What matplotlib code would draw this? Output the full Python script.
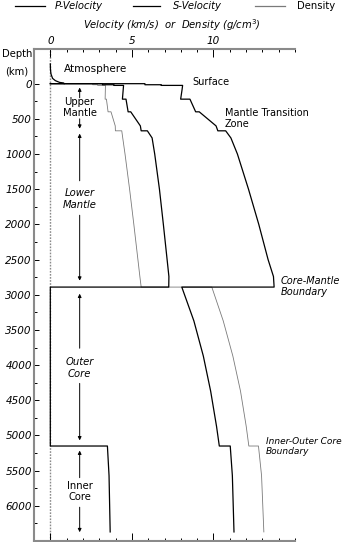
import matplotlib
matplotlib.use("Agg")
import matplotlib.pyplot as plt
from matplotlib.lines import Line2D

# PREM-like profiles (depth in km)
depth_p = [0, 0, 15, 15, 24.4, 24.4, 80, 220, 220, 400, 400, 600, 670, 670, 771,
           1000, 1500, 2000, 2500, 2741, 2891, 2891, 3371, 3871, 4371, 4871, 5150,
           5150, 5571, 6371]
vp = [0, 5.8, 5.8, 6.8, 6.8, 8.11, 8.08, 7.99, 8.56, 8.91, 9.13, 10.16, 10.27, 10.75, 11.07,
      11.47, 12.15, 12.78, 13.35, 13.68, 13.72, 8.06, 8.80, 9.38, 9.83, 10.19, 10.36,
      11.03, 11.16, 11.26]

depth_s = [0, 0, 15, 15, 24.4, 24.4, 80, 220, 220, 400, 400, 600, 670, 670, 771,
           1000, 1500, 2000, 2500, 2741, 2891, 2891, 5150, 5150, 5571, 6371]
vs = [0, 3.2, 3.2, 3.9, 3.9, 4.49, 4.47, 4.42, 4.64, 4.77, 4.93, 5.52, 5.57, 5.95, 6.24,
      6.40, 6.69, 6.93, 7.16, 7.27, 7.26, 0, 0, 3.50, 3.60, 3.67]

depth_rho = [0, 0, 15, 15, 24.4, 24.4, 220, 220, 400, 400, 600, 670, 670, 771,
             1000, 1500, 2000, 2500, 2741, 2891, 2891, 3371, 3871, 4371, 4871, 5150,
             5150, 5571, 6371]
rho = [0, 2.6, 2.6, 2.9, 2.9, 3.38, 3.36, 3.44, 3.54, 3.72, 3.98, 3.99, 4.38, 4.44,
       4.58, 4.86, 5.12, 5.37, 5.49, 5.57, 9.90, 10.60, 11.19, 11.66, 12.01, 12.17,
       12.76, 12.95, 13.09]

# atmosphere curve above the surface
depth_atm = [-280, -200, -138, -75, -43, -18, -10, 0]
atm = [0, 0.01, 0.04, 0.14, 0.31, 0.57, 0.82, 0.85]

# layer labels with arrows: (text, style, text depth, up arrow from/to, down arrow from/to)
layers = [
    ("Upper\nMantle", "normal", 340, (200, 55), (500, 640)),
    ("Lower\nMantle", "italic", 1640, (1380, 710), (1870, 2800)),
    ("Outer\nCore", "italic", 4040, (3760, 2985), (4260, 5070)),
    ("Inner\nCore", "normal", 5800, (5600, 5215), (6020, 6375)),
]
label_x = 1.8

# boundary notes on the right side
notes = [
    ("Surface", "normal", 8.7, -30, 7.0),
    ("Mantle Transition\nZone", "normal", 10.7, 500, 7.0),
    ("Core-Mantle\nBoundary", "italic", 14.1, 2885, 7.0),
    ("Inner-Outer Core\nBoundary", "italic", 13.2, 5160, 6.5),
]

W, H = 348, 542
fig = plt.figure(figsize=(W / 100, H / 100), dpi=100)
ax = fig.add_axes([34 / W, 1 / H, 261 / W, 492.5 / H])

frame = "#8a8a8a"
ax.axvline(0, color=frame, lw=1.0, ls=(0, (1.2, 1.0)), zorder=1)
ax.plot(vp, depth_p, color="black", lw=0.9, zorder=3)
ax.plot(vs, depth_s, color="black", lw=0.9, zorder=3)
ax.plot(rho, depth_rho, color="#7a7a7a", lw=0.6, zorder=2)
ax.plot(atm, depth_atm, color="black", lw=0.9, zorder=3)

ax.set_xlim(-1, 15)
ax.set_ylim(6500, -500)

ax.set_xticks([0, 5, 10])
ax.set_xticks(range(-1, 16), minor=True)
ax.set_yticks(range(0, 6001, 500))
ax.set_yticks(range(0, 6401, 250), minor=True)
ax.xaxis.set_ticks_position("both")
ax.tick_params(axis="x", which="both", direction="in", top=True, bottom=True,
               labeltop=True, labelbottom=False, width=0.7, pad=1.5, labelsize=7.5)
ax.tick_params(axis="x", which="major", length=5.5)
ax.tick_params(axis="x", which="minor", length=2.3)
ax.tick_params(axis="y", which="both", direction="in", width=0.7, pad=1.5, labelsize=7.5)
ax.tick_params(axis="y", which="major", length=3.8)
ax.tick_params(axis="y", which="minor", length=2.0)
for lab in ax.get_xticklabels() + ax.get_yticklabels():
    lab.set_style("italic")

for side in ["left", "top", "bottom"]:
    ax.spines[side].set_color(frame)
    ax.spines[side].set_linewidth(1.5)
ax.spines["right"].set_visible(False)

ax.text(2.75, -215, "Atmosphere", fontsize=7.5, ha="center", va="center")

for text, style, d_text, up, down in layers:
    ax.text(label_x, d_text, text, fontsize=7.2, style=style, ha="center",
            va="center", linespacing=1.15)
    for a, b in (up, down):
        ax.annotate("", xy=(label_x, b), xytext=(label_x, a),
                    arrowprops=dict(arrowstyle="-|>", color="black", lw=0.7,
                                    mutation_scale=5, shrinkA=0, shrinkB=0))

for text, style, x, d, size in notes:
    ax.text(x, d, text, fontsize=size, style=style, ha="left", va="center",
            linespacing=1.15, clip_on=False)

# legend row and headings
fig.text(172 / W, 1 - 25 / H, "Velocity (km/s)  or  Density (g/cm$^3$)",
         fontsize=7.2, style="italic", ha="center", va="center")
fig.text(17 / W, 1 - 54 / H, "Depth", fontsize=7.2, ha="center", va="center")
fig.text(17 / W, 1 - 71 / H, "(km)", fontsize=7.2, ha="center", va="center")

legend = [("P-Velocity", "black", 15, 45, 55, "italic"),
          ("S-Velocity", "black", 133, 160, 173, "italic"),
          ("Density", "#7a7a7a", 255, 285, 297, "normal")]
for name, col, x0, x1, xt, style in legend:
    fig.add_artist(Line2D([x0 / W, x1 / W], [1 - 6 / H, 1 - 6 / H], color=col,
                          lw=0.9, transform=fig.transFigure))
    fig.text(xt / W, 1 - 6 / H, name, fontsize=7.2, style=style, ha="left", va="center")

fig.savefig("out.png", dpi=100)
